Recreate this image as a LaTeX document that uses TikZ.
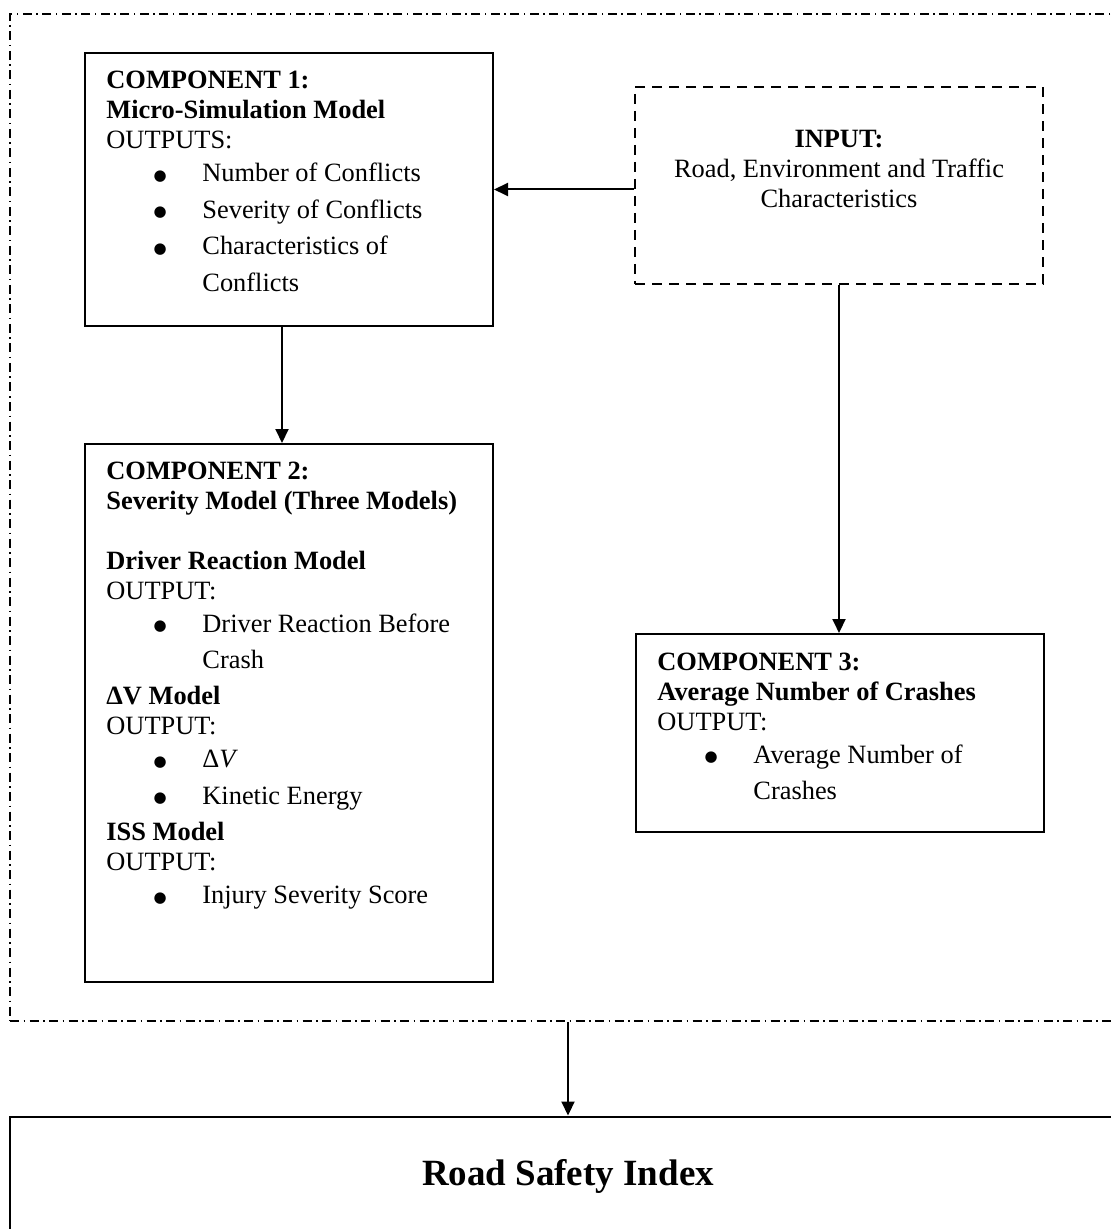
\documentclass[tikz,border=0pt]{standalone}
\usepackage{fontspec}
\setmainfont{Liberation Serif}
\newfontfamily\dotfont{DejaVu Sans}
\usepackage{tikz}
\usetikzlibrary{arrows.meta}
\newcommand{\bodyfont}{\fontsize{13.2}{15}\selectfont}
\newcommand{\itm}{\hspace*{23.6pt}\makebox[24.4pt][l]{%
  \raisebox{0.7pt}{\dotfont\fontsize{7.5}{7.5}\selectfont ●}}}
\newcommand{\itmcont}{\hspace*{48pt}}
\newcommand{\boxpar}[1]{\parbox[t]{200pt}{\raggedright #1}}
\tikzset{
  compbox/.style={rectangle, draw, line width=1pt, inner sep=0pt,
                  minimum width=204pt},
  inbox/.style={rectangle, draw, line width=0.9pt, inner sep=0pt,
                dash pattern=on 5pt off 3.5pt, minimum width=204pt},
  sysframe/.style={rectangle, draw, line width=0.9pt, inner sep=0pt,
                   dash pattern=on 4.5pt off 2.25pt on 0.75pt off 2.25pt},
  flow/.style={-{Triangle[length=7pt,width=6.5pt]}, line width=1pt},
  boxtext/.style={anchor=base west, inner sep=0pt, font=\bodyfont},
  intext/.style={anchor=base, inner sep=0pt, font=\bodyfont},
  rsilabel/.style={anchor=base, inner sep=0pt,
                   font=\fontsize{18.5}{22}\selectfont\bfseries},
}

\begin{document}
\begin{tikzpicture}[x=0.5pt,y=-0.5pt]
  \useasboundingbox (0,0) rectangle (1111,1229);
  \clip (0,0) rectangle (1111,1229);

  % dash-dot frame round the three components
  \node[sysframe, minimum width=558pt, minimum height=503.5pt] (system) at (568,517.5) {};

  % boxes
  \node[compbox, minimum height=136.5pt] (comp1) at (289,189.5) {};
  \node[inbox, minimum height=98.5pt] (input) at (839,185.5) {};
  \node[compbox, minimum height=269pt] (comp2) at (289,713) {};
  \node[compbox, minimum height=99pt] (comp3) at (840,733) {};
  \node[compbox, minimum width=558pt, minimum height=67pt] (rsi) at (568,1183.5) {};

  % box texts
  \node[boxtext] (comp1txt) at (106,89) {\boxpar{%
    \textbf{COMPONENT 1:}\\
    \textbf{Micro-Simulation Model}\\
    OUTPUTS:\\[1.5pt]
    \itm Number of Conflicts\\[3.2pt]
    \itm Severity of Conflicts\\[3.2pt]
    \itm Characteristics of\\[3.2pt]
    \itmcont Conflicts}};
  \node[intext] (inputtxt) at (839,148) {\parbox[t]{200pt}{\centering
    \textbf{INPUT:}\\
    Road, Environment and Traffic\\
    Characteristics}};
  \node[boxtext] (comp2txt) at (106,479) {\boxpar{%
    \textbf{COMPONENT 2:}\\
    \textbf{Severity Model (Three Models)}\\[15pt]
    \textbf{Driver Reaction Model}\\
    OUTPUT:\\[1.5pt]
    \itm Driver Reaction Before\\[3.2pt]
    \itmcont Crash\\[3.2pt]
    \textbf{Δ{}V Model}\\
    OUTPUT:\\[1.5pt]
    \itm Δ\textit{V}\\[3.2pt]
    \itm Kinetic Energy\\[3.2pt]
    \textbf{ISS Model}\\
    OUTPUT:\\[1.5pt]
    \itm Injury Severity Score}};
  \node[boxtext] (comp3txt) at (657,670) {\boxpar{%
    \textbf{COMPONENT 3:}\\
    \textbf{Average Number of Crashes}\\
    OUTPUT:\\[1.5pt]
    \itm Average Number of\\[3.2pt]
    \itmcont Crashes}};
  \node[rsilabel] (rsitxt) at (568,1185) {Road Safety Index};

  % connectors
  \draw[flow] (input.west |- comp1.east) -- (comp1.east);
  \draw[flow] ([xshift=-3.5pt]comp1.south) -- ([xshift=-3.5pt]comp2.north);
  \draw[flow] (input.south) -- (input.south |- comp3.north);
  \draw[flow] (system.south) -- (rsi.north);
\end{tikzpicture}
\end{document}
